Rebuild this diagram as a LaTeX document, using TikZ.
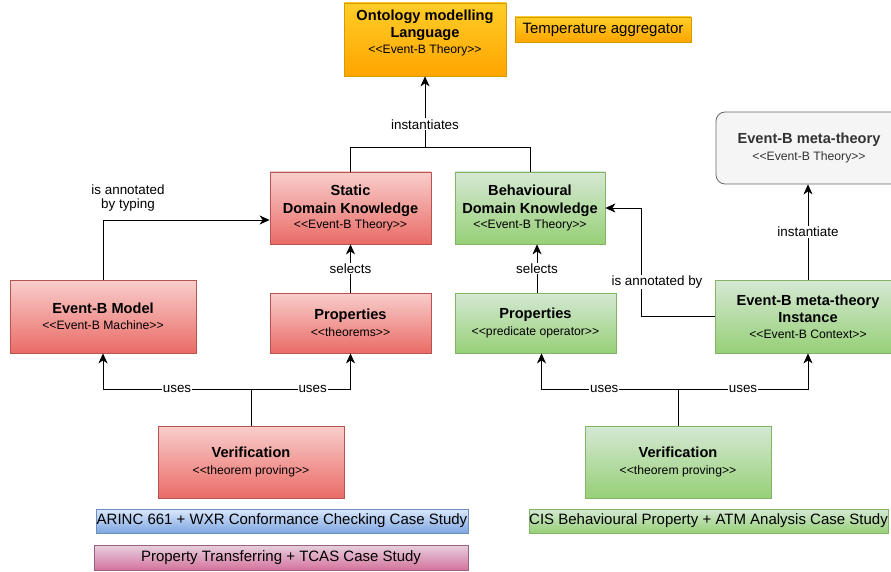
\documentclass[tikz,border=0pt]{standalone}
\usepackage{fontspec}
\setmainfont{Liberation Sans}[Ligatures=TeXOff]
\usetikzlibrary{arrows.meta,calc}
\definecolor{orTop}{HTML}{FFCD28}\definecolor{orBot}{HTML}{FFA500}\definecolor{orLine}{HTML}{D79B00}
\definecolor{rdTop}{HTML}{F8CECC}\definecolor{rdBot}{HTML}{EA6B66}\definecolor{rdLine}{HTML}{B85450}
\definecolor{grTop}{HTML}{D5E8D4}\definecolor{grBot}{HTML}{97D077}\definecolor{grLine}{HTML}{82B366}
\definecolor{blTop}{HTML}{DAE8FC}\definecolor{blBot}{HTML}{7EA6E0}\definecolor{blLine}{HTML}{6C8EBF}
\definecolor{pkTop}{HTML}{E6D0DE}\definecolor{pkBot}{HTML}{D5739D}\definecolor{pkLine}{HTML}{996185}
\definecolor{gyFill}{HTML}{F5F5F5}\definecolor{gyLine}{HTML}{666666}\definecolor{gyText}{HTML}{333333}
\tikzset{
  box/.style={draw, line width=0.8pt, inner sep=0pt, align=center, font=\fontsize{14.6}{17.5}\selectfont},
  redbox/.style={box, top color=rdTop, bottom color=rdBot, draw=rdLine},
  greenbox/.style={box, top color=grTop, bottom color=grBot, draw=grLine},
  orbox/.style={box, top color=orTop, bottom color=orBot, draw=orLine},
  bluebox/.style={box, top color=blTop, bottom color=blBot, draw=blLine},
  pinkbox/.style={box, top color=pkTop, bottom color=pkBot, draw=pkLine},
  greybox/.style={box, fill=gyFill, draw=gyLine, rounded corners=9pt, text=gyText},
  conn/.style={line width=0.8pt},
  arr/.style={conn, -{Stealth[length=10pt,width=9pt,inset=3pt]}},
  lbl/.style={fill=white, inner sep=1pt, font=\fontsize{13.4}{14.5}\selectfont},
  big/.style={font=\fontsize{15}{17}\selectfont}
}
\newcommand{\ttl}[1]{\textbf{#1}}
\newcommand{\stp}[1]{{\fontsize{12.2}{14}\selectfont #1}}
\begin{document}
\begin{tikzpicture}[x=1pt,y=-1pt]
\useasboundingbox (0,0) rectangle (891,572);
\clip (0,0) rectangle (891,572);
% boxes
\node[orbox, minimum width=162, minimum height=73] (ont) at (425,39.5) {};
\node[align=center, inner sep=0, font=\fontsize{14.6}{17}\selectfont] (ontt) at (425,33) {\ttl{Ontology modelling}\\\ttl{Language}\\[-1pt]\stp{<<Event-B Theory>>}};
\node[orbox, big, minimum width=176, minimum height=25] (temp) at (603,29.5) {Temperature aggregator};
\node[redbox, minimum width=161, minimum height=72] (stat) at (350.5,208) {\ttl{Static}\\\ttl{Domain Knowledge}\\[-2pt]\stp{<<Event-B Theory>>}};
\node[greenbox, minimum width=150, minimum height=72] (beh) at (530,208) {\ttl{Behavioural}\\\ttl{Domain Knowledge}\\[-2pt]\stp{<<Event-B Theory>>}};
\node[greybox, minimum width=186, minimum height=72] (meta) at (809,148) {\ttl{Event-B meta-theory}\\[-1pt]\stp{<<Event-B Theory>>}};
\node[redbox, minimum width=186, minimum height=73] (model) at (103,316.5) {\ttl{Event-B Model}\\[-1pt]\stp{<<Event-B Machine>>}};
\node[redbox, minimum width=161, minimum height=60] (prop1) at (350.5,323) {\ttl{Properties}\\[-1pt]\stp{<<theorems>>}};
\node[greenbox, minimum width=161, minimum height=60] (prop2) at (535.5,323) {\ttl{Properties}\\[-1pt]\stp{<<predicate operator>>}};
\node[greenbox, minimum width=186, minimum height=73] (inst) at (808,316.5) {\ttl{Event-B meta-theory}\\\ttl{Instance}\\[-2pt]\stp{<<Event-B Context>>}};
\node[redbox, minimum width=186, minimum height=72] (ver1) at (251,462) {\ttl{Verification}\\[-1pt]\stp{<<theorem proving>>}};
\node[greenbox, minimum width=186, minimum height=72] (ver2) at (678,462) {\ttl{Verification}\\[-1pt]\stp{<<theorem proving>>}};
\node[bluebox, big, minimum width=372, minimum height=24] (arinc) at (282,521) {ARINC 661 + WXR Conformance Checking Case Study};
\node[pinkbox, big, minimum width=374, minimum height=25] (tcas) at (281,557.5) {Property Transferring + TCAS Case Study};
\node[greenbox, big, minimum width=359, minimum height=24] (cis) at (708.5,521) {CIS Behavioural Property + ATM Analysis Case Study};
% connectors
\coordinate (j1) at (425,147);
\draw[conn] (stat.north) |- (j1);
\draw[conn] (beh.north) |- (j1);
\draw[arr] (j1) -- node[lbl, pos=0.32] (linst) {instantiates} (ont.south);
\draw[arr] (model.north) |- ($(stat.west)+(0,12)$);
\node[lbl, align=center] (lann) at (128,198) {is annotated\\by typing};
\draw[arr] (prop1.north) -- node[lbl, pos=0.5] (lsel1) {selects} (stat.south);
\draw[arr] ($(prop2.north)+(1.5,0)$) -- node[lbl, pos=0.5] (lsel2) {selects} ($(beh.south)+(7,0)$);
\coordinate (k1) at (641,316.5);
\draw[arr] (inst.west) -- (k1) |- (beh.east);
\node[lbl] (lann2) at (657,282) {is annotated by};
\draw[arr] (inst.north) -- node[lbl, pos=0.5] (linst2) {instantiate} (inst.north |- meta.south);
% uses
\coordinate (u1) at (251,389);
\draw[conn] (ver1.north) -- (u1);
\draw[arr] (u1) -| node[lbl, pos=0.25] (luse1) {uses} (model.south);
\draw[arr] (u1) -| node[lbl, pos=0.31] (luse2) {uses} (prop1.south);
\coordinate (u2) at (678,389);
\draw[conn] (ver2.north) -- (u2);
\draw[arr] (u2) -| node[lbl, pos=0.27] (luse3) {uses} ($(prop2.south)+(6,0)$);
\draw[arr] (u2) -| node[lbl, pos=0.25] (luse4) {uses} (inst.south);
\end{tikzpicture}
\end{document}
